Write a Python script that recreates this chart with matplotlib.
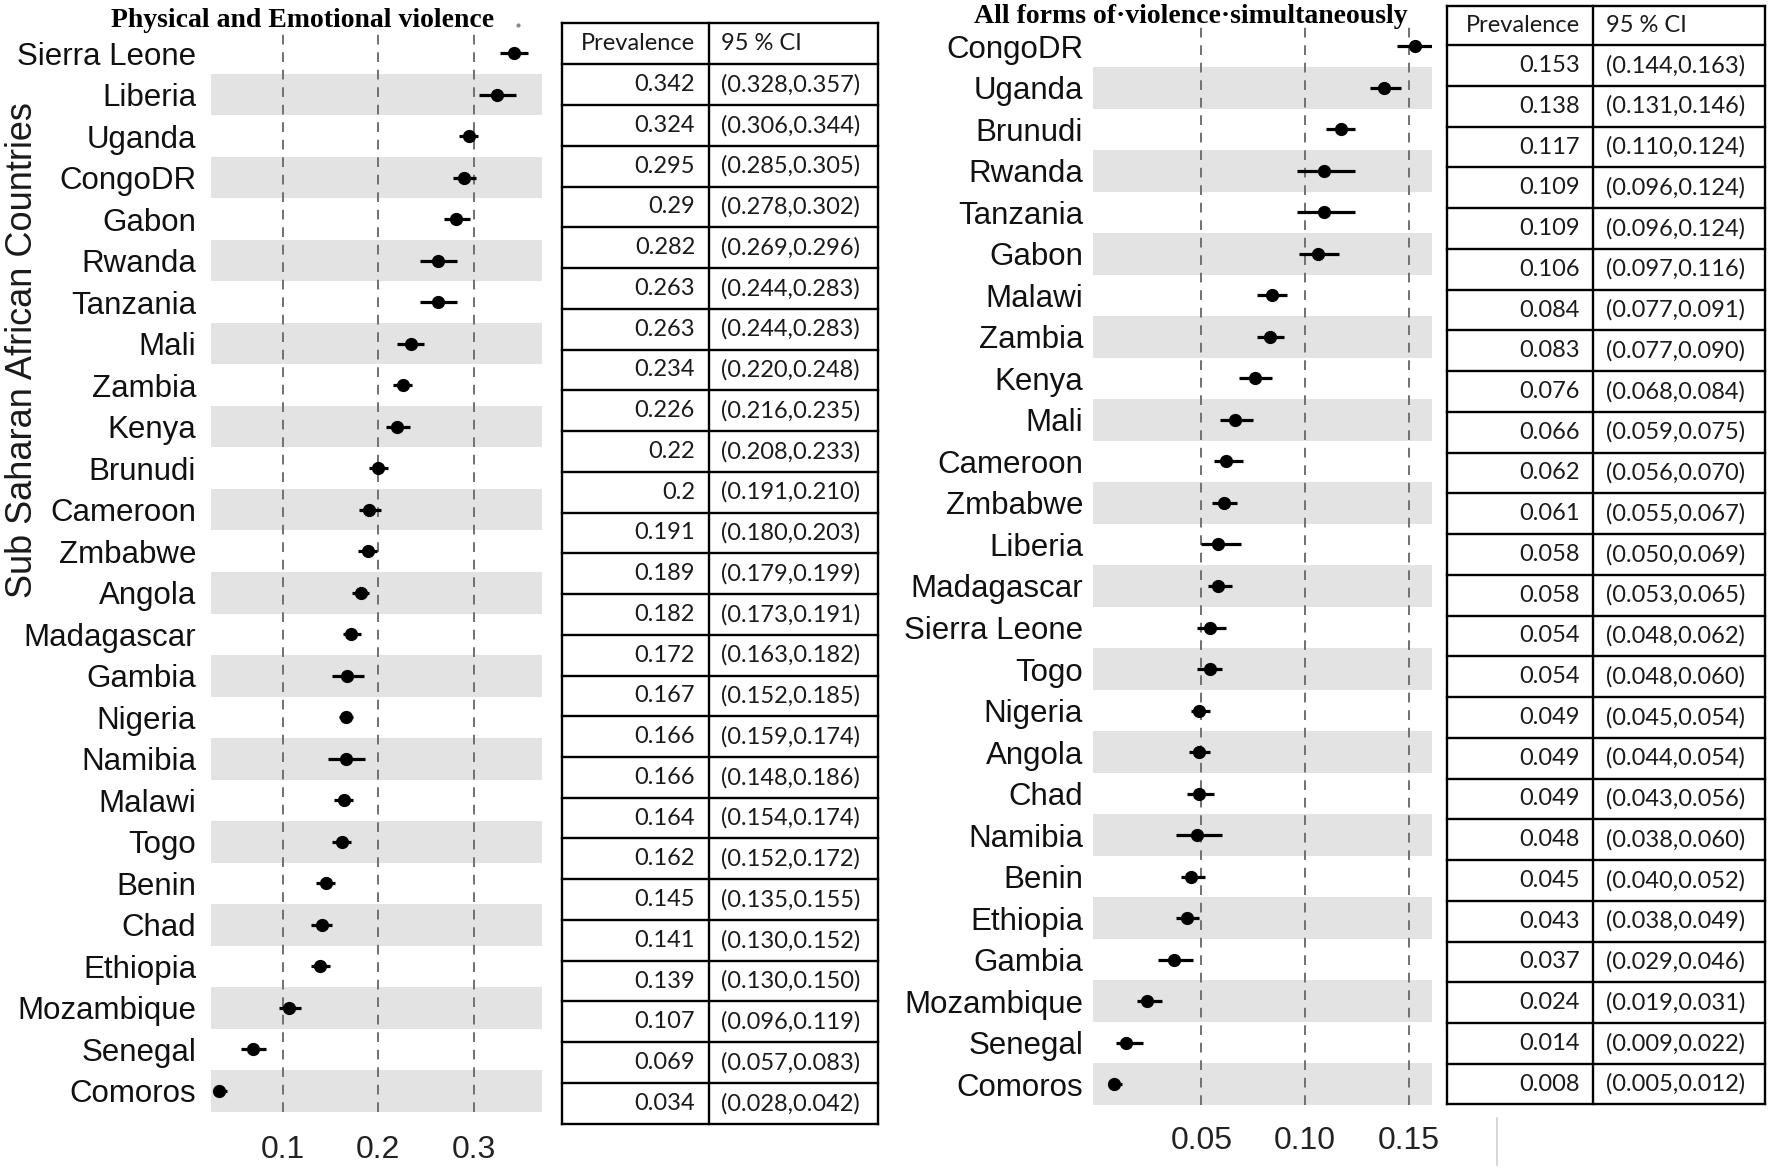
import matplotlib
matplotlib.use("Agg")
import matplotlib.pyplot as plt
import numpy as np

# physical and emotional violence (top to bottom)
countries_pe = ["Sierra Leone", "Liberia", "Uganda", "CongoDR", "Gabon", "Rwanda", "Tanzania",
                "Mali", "Zambia", "Kenya", "Brunudi", "Cameroon", "Zmbabwe", "Angola",
                "Madagascar", "Gambia", "Nigeria", "Namibia", "Malawi", "Togo", "Benin",
                "Chad", "Ethiopia", "Mozambique", "Senegal", "Comoros"]
prev_pe = [0.342, 0.324, 0.295, 0.29, 0.282, 0.263, 0.263, 0.234, 0.226, 0.22, 0.2, 0.191,
           0.189, 0.182, 0.172, 0.167, 0.166, 0.166, 0.164, 0.162, 0.145, 0.141, 0.139,
           0.107, 0.069, 0.034]
lo_pe = [0.328, 0.306, 0.285, 0.278, 0.269, 0.244, 0.244, 0.220, 0.216, 0.208, 0.191, 0.180,
         0.179, 0.173, 0.163, 0.152, 0.159, 0.148, 0.154, 0.152, 0.135, 0.130, 0.130,
         0.096, 0.057, 0.028]
hi_pe = [0.357, 0.344, 0.305, 0.302, 0.296, 0.283, 0.283, 0.248, 0.235, 0.233, 0.210, 0.203,
         0.199, 0.191, 0.182, 0.185, 0.174, 0.186, 0.174, 0.172, 0.155, 0.152, 0.150,
         0.119, 0.083, 0.042]

# all forms of violence simultaneously (top to bottom)
countries_all = ["CongoDR", "Uganda", "Brunudi", "Rwanda", "Tanzania", "Gabon", "Malawi",
                 "Zambia", "Kenya", "Mali", "Cameroon", "Zmbabwe", "Liberia", "Madagascar",
                 "Sierra Leone", "Togo", "Nigeria", "Angola", "Chad", "Namibia", "Benin",
                 "Ethiopia", "Gambia", "Mozambique", "Senegal", "Comoros"]
prev_all = [0.153, 0.138, 0.117, 0.109, 0.109, 0.106, 0.084, 0.083, 0.076, 0.066, 0.062,
            0.061, 0.058, 0.058, 0.054, 0.054, 0.049, 0.049, 0.049, 0.048, 0.045, 0.043,
            0.037, 0.024, 0.014, 0.008]
lo_all = [0.144, 0.131, 0.110, 0.096, 0.096, 0.097, 0.077, 0.077, 0.068, 0.059, 0.056,
          0.055, 0.050, 0.053, 0.048, 0.048, 0.045, 0.044, 0.043, 0.038, 0.040, 0.038,
          0.029, 0.019, 0.009, 0.005]
hi_all = [0.163, 0.146, 0.124, 0.124, 0.124, 0.116, 0.091, 0.090, 0.084, 0.075, 0.070,
          0.067, 0.069, 0.065, 0.062, 0.060, 0.054, 0.054, 0.056, 0.060, 0.052, 0.049,
          0.046, 0.031, 0.022, 0.012]

ticks_pe = [0.1, 0.2, 0.3]
ticklabels_pe = ["0.1", "0.2", "0.3"]
ticks_all = [0.05, 0.10, 0.15]
ticklabels_all = ["0.05", "0.10", "0.15"]

W, H = 1568.0, 1036.0  # layout measured on a 1568 wide copy of the reference
def fx(x):
    return x / W
def fy(y):
    return 1 - y / H

fig = plt.figure(figsize=(17.72, 11.70), dpi=100)

def forest(rect, names, prev, lo, hi, xlim, ticks, ticklabels, ypad, xpad):
    ax = fig.add_axes(rect)
    prev = np.array(prev); lo = np.array(lo); hi = np.array(hi)
    n = len(names)
    y = np.arange(n)
    for i in range(1, n, 2):
        ax.axhspan(i - 0.5, i + 0.5, color="#e3e3e3", lw=0, zorder=0)
    for t in ticks:
        ax.axvline(t, color="#707070", ls=(0, (5, 4)), lw=1.4, zorder=1)
    ax.errorbar(prev, y, xerr=[prev - lo, hi - prev], fmt="o", color="black", ms=8.5,
                elinewidth=2.3, capsize=0, zorder=3)
    ax.set_xlim(*xlim)
    ax.set_ylim(n - 0.5, -0.5)
    ax.set_yticks(y)
    ax.set_yticklabels(names, fontsize=22.5, family="Liberation Sans", color="#111111")
    ax.set_xticks(ticks)
    ax.set_xticklabels(ticklabels, fontsize=23, family=["Liberation Sans Narrow", "Liberation Sans"],
                       color="#222222")
    ax.tick_params(axis="y", length=0, pad=ypad)
    ax.tick_params(axis="x", length=0, pad=xpad)
    for s in ax.spines.values():
        s.set_visible(False)
    ax.patch.set_alpha(0)
    return ax

forest([fx(187), fy(984.4), fx(480) - fx(187), (984.4 - 28.6) / H],
       countries_pe, prev_pe, lo_pe, hi_pe, (0.0255, 0.372), ticks_pe, ticklabels_pe, 11, 17)
forest([fx(967), fy(978.4), fx(1267) - fx(967), (978.4 - 22.6) / H],
       countries_all, prev_all, lo_all, hi_all, (-0.0022, 0.1609), ticks_all, ticklabels_all, 7, 15)

# tables drawn on a full-figure overlay in reference pixel units
tab = fig.add_axes([0, 0, 1, 1])
tab.set_xlim(0, W)
tab.set_ylim(H, 0)
tab.axis("off")
tab.patch.set_alpha(0)

def table(left, split, right, top, head_bottom, bottom, prev, lo, hi):
    n = len(prev)
    rh = (bottom - head_bottom) / n
    kw = dict(color="black", lw=1.7)
    for yy in [top, head_bottom] + [head_bottom + rh * (i + 1) for i in range(n)]:
        tab.plot([left, right], [yy, yy], **kw)
    for xx in [left, split, right]:
        tab.plot([xx, xx], [top, bottom], **kw)
    tf = dict(fontsize=17, family="Lato", color="#1a1a1a", va="center")
    tab.text(split - 12, (top + head_bottom) / 2, "Prevalence", ha="right", **tf)
    tab.text(split + 11, (top + head_bottom) / 2, "95 % CI", ha="left", **tf)
    for i in range(n):
        yc = head_bottom + rh * (i + 0.5)
        tab.text(split - 12, yc, str(prev[i]), ha="right", **tf)
        tab.text(split + 11, yc, f"({lo[i]:.3f},{hi[i]:.3f})", ha="left", **tf)

table(497, 627, 777, 20, 57, 995, prev_pe, lo_pe, hi_pe)
table(1280, 1410, 1562, 5, 40, 978, prev_all, lo_all, hi_all)
tab.plot([1325, 1325], [990, 1032], color="#d0d0d0", lw=1.2)
tab.plot([458], [22], marker="o", ms=2, color="#888888")

fig.text(fx(268), fy(18), "Physical and Emotional violence", ha="center", va="center",
         fontsize=20, weight="bold", family="Liberation Serif")
fig.text(fx(1054), fy(15), "All forms of\u00b7violence\u00b7simultaneously", ha="center", va="center",
         fontsize=20, weight="bold", family="Liberation Serif")
fig.text(fx(20), fy(310), "Sub Saharan African Countries", rotation=90, ha="center", va="center",
         fontsize=26, family="Liberation Sans", color="#1a1a1a")

fig.savefig("out.png", dpi=100, facecolor="white")
